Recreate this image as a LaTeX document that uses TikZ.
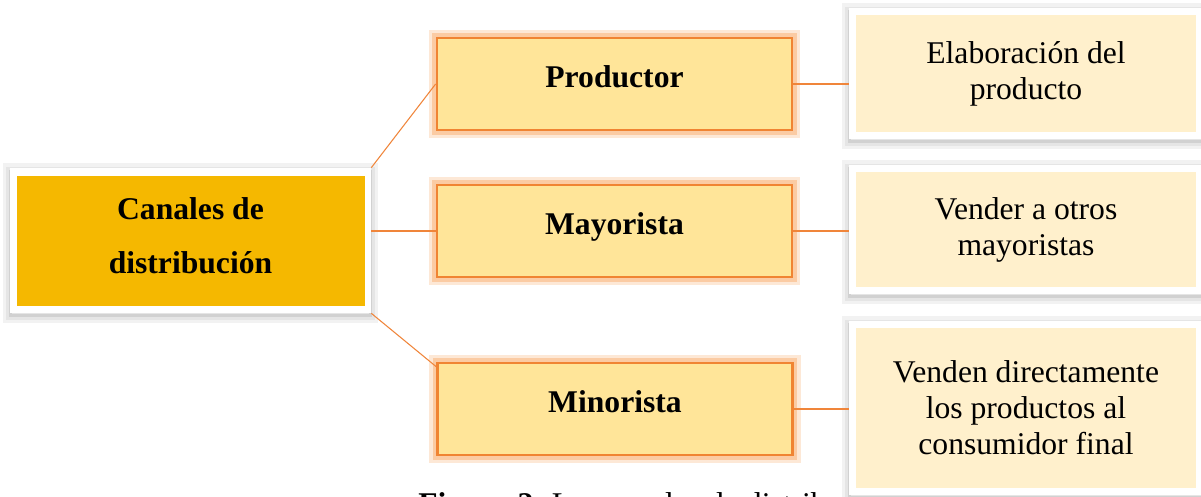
\documentclass[tikz,border=0pt]{standalone}
\usepackage{fontspec}
\setmainfont{Liberation Serif}
\usepackage{tikz}
\usetikzlibrary{positioning, calc}
\definecolor{canalgold}{HTML}{F5B800}
\definecolor{canalorange}{HTML}{F08433}
\definecolor{canalglow}{HTML}{FBCBA3}
\definecolor{agentfill}{HTML}{FFE599}
\definecolor{rolefill}{HTML}{FFF0CC}
\definecolor{canalline}{HTML}{F0853A}

\begin{document}
\begin{tikzpicture}[x=0.02cm, y=-0.02cm,
    framebox/.style={fill=white, inner sep=0pt, align=center,
      preaction={draw=black!5, line width=0.3cm, transform canvas={yshift=-0.05cm}},
      preaction={draw=black!10, line width=0.16cm, transform canvas={yshift=-0.06cm}},
      preaction={draw=black!18, line width=0.06cm, transform canvas={yshift=-0.06cm}}},
    mainbox/.style={framebox, minimum width=7.22cm, minimum height=2.9cm,
      text depth=5.7pt, font=\bfseries\fontsize{18}{30.5}\selectfont,
      path picture={\fill[canalgold] ($(path picture bounding box.north west)+(0.14cm,-0.16cm)$)
        rectangle ($(path picture bounding box.south east)+(-0.12cm,0.14cm)$);}},
    rolebox/.style={framebox, minimum width=7.08cm,
      font=\fontsize{18}{20.5}\selectfont,
      path picture={\fill[rolefill] ($(path picture bounding box.north west)+(0.14cm,-0.14cm)$)
        rectangle ($(path picture bounding box.south east)+(-0.14cm,0.14cm)$);}},
    agentbox/.style={draw=canalorange, line width=1.6pt, fill=agentfill,
      preaction={draw=canalglow!45, line width=0.34cm},
      preaction={draw=canalglow, line width=0.2cm},
      minimum width=7.1cm, minimum height=1.84cm, inner sep=0pt,
      text height=12pt, text depth=7.5pt, font=\bfseries\fontsize{18}{21}\selectfont},
    link/.style={draw=canalline, line width=0.6pt}
  ]
  \clip (0,0) rectangle (1201,497);
  \fill[white] (0,0) rectangle (1201,497);

  % caption, cut off at the bottom
  \node[anchor=base west, inner sep=0pt, font=\fontsize{18}{21}\selectfont] (caption) at (418,514)
    {\textbf{Figura 2.} Los canales de distribución};

  % left
  \node[mainbox] (canal) at (190.5,240.5) {Canales de\\distribución};

  % middle
  \node[agentbox] (prod) at (614.5,84) {Productor};
  \node[agentbox] (mayo) at (614.5,231) {Mayorista};
  \node[agentbox] (mino) at (615,409) {Minorista};

  % right
  \node[rolebox, minimum height=2.62cm] (elab) at (1026,73.5) {Elaboración del\\producto};
  \node[rolebox, minimum height=2.58cm] (vend) at (1026,229.5) {Vender a otros\\mayoristas};
  \node[rolebox, minimum height=3.48cm] (cons) at (1026,408) {Venden directamente\\los productos al\\consumidor final};

  % connectors
  \coordinate (minoin) at ($(mino.north west)+(0,5)$);
  \draw[link] (canal.north east) -- (prod.west);
  \draw[link] (mayo.west -| canal.east) -- (mayo.west);
  \draw[link] (canal.south east) -- (minoin);
  \draw[link] (prod.east) -- (prod.east -| elab.west);
  \draw[link] (mayo.east) -- (mayo.east -| vend.west);
  \draw[link] (mino.east) -- (mino.east -| cons.west);
\end{tikzpicture}
\end{document}
